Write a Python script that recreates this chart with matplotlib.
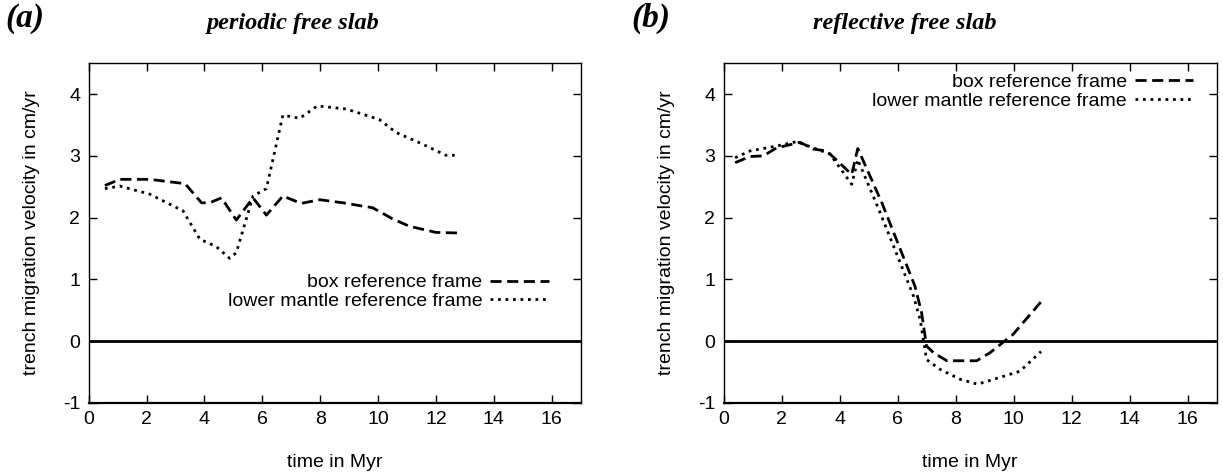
import matplotlib

matplotlib.use("Agg")
import matplotlib.pyplot as plt

# panel (a): periodic free slab
t_a_box = [0.56, 1.08, 2.11, 3.33, 3.9, 4.18, 4.59, 5.1, 5.68, 6.14, 6.71, 7.34,
           7.98, 8.78, 9.81, 10.5, 11.08, 12.0, 12.8]
v_a_box = [2.52, 2.62, 2.62, 2.55, 2.24, 2.24, 2.32, 1.96, 2.32, 2.04, 2.35, 2.23,
           2.29, 2.24, 2.16, 1.98, 1.86, 1.76, 1.75]
t_a_lm = [0.56, 1.08, 2.11, 3.26, 3.84, 4.41, 4.87, 5.1, 5.68, 6.14, 6.71, 7.29,
          7.9, 8.9, 10.04, 10.62, 11.54, 12.34, 12.8]
v_a_lm = [2.47, 2.51, 2.38, 2.11, 1.65, 1.53, 1.34, 1.43, 2.35, 2.47, 3.66, 3.61,
          3.81, 3.76, 3.59, 3.38, 3.19, 3.01, 3.01]

# panel (b): reflective free slab
t_b_box = [0.4, 0.91, 1.37, 1.83, 2.64, 3.1, 3.56, 4.42, 4.63, 5.46, 6.6, 6.83,
           7.0, 7.24, 7.7, 8.73, 9.19, 9.99, 11.03]
v_b_box = [2.89, 2.99, 3.0, 3.13, 3.22, 3.11, 3.08, 2.70, 3.12, 2.24, 0.89, 0.46,
           -0.08, -0.19, -0.32, -0.32, -0.19, 0.11, 0.68]
t_b_lm = [0.4, 0.91, 1.83, 2.52, 3.1, 3.67, 4.42, 4.63, 5.4, 6.55, 6.78, 7.0,
          7.47, 8.16, 8.76, 9.53, 10.22, 10.95]
v_b_lm = [2.97, 3.08, 3.16, 3.23, 3.13, 3.03, 2.54, 2.94, 2.08, 0.73, 0.35, -0.30,
          -0.46, -0.62, -0.70, -0.59, -0.49, -0.17]

x_ticks = [0, 2, 4, 6, 8, 10, 12, 14, 16]
y_ticks = [-1, 0, 1, 2, 3, 4]

DASHED = (0, (4.0, 2.0))
DOTTED = (0, (1.0, 1.7))


def style_axes(ax):
    ax.set_xlim(0, 17)
    ax.set_ylim(-1, 4.5)
    ax.set_xticks(x_ticks)
    ax.set_yticks(y_ticks)
    ax.tick_params(direction="in", length=6, width=1, top=True, right=True,
                   labelsize=14, pad=6)
    for side in ["top", "left", "right"]:
        ax.spines[side].set_linewidth(1)
    ax.spines["bottom"].set_linewidth(1.6)
    ax.axhline(0, color="black", lw=2)
    ax.set_xlabel("time in Myr", fontsize=14)
    ax.set_ylabel("trench migration velocity in cm/yr", fontsize=14)
    ax.xaxis.set_label_coords(0.5, -0.152)
    ax.yaxis.set_label_coords(-0.099, 0.5)


def main() -> None:
    plt.rcParams["font.family"] = ["Liberation Sans", "DejaVu Sans"]
    plt.rcParams["axes.unicode_minus"] = False

    fig = plt.figure(figsize=(12.23, 4.72), dpi=100)
    ax1 = fig.add_axes([0.0725, 0.1468, 0.4023, 0.719])
    ax2 = fig.add_axes([0.5916, 0.1468, 0.4031, 0.719])

    for ax, tb, vb, tl, vl, anchor in [
        (ax1, t_a_box, v_a_box, t_a_lm, v_a_lm, (0.935, 0.38)),
        (ax2, t_b_box, v_b_box, t_b_lm, v_b_lm, (0.952, 0.97)),
    ]:
        ax.plot(tb, vb, color="black", lw=2, linestyle=DASHED,
                label="box reference frame")
        ax.plot(tl, vl, color="black", lw=2, linestyle=DOTTED,
                label="lower mantle reference frame")
        style_axes(ax)
        ax.legend(loc="upper right", bbox_to_anchor=anchor, frameon=False,
                  markerfirst=False, fontsize=14, handlelength=3.0,
                  handletextpad=0.4, labelspacing=0.05, borderpad=0,
                  borderaxespad=0)

    serif = ["Liberation Serif", "DejaVu Serif"]
    fig.text(0.0204, 0.96, "(a)", fontsize=24, fontweight="bold", style="italic",
             family=serif, ha="center", va="center")
    fig.text(0.2396, 0.95, "periodic free slab", fontsize=17.5, fontweight="bold",
             style="italic", family=serif, ha="center", va="center")
    fig.text(0.532, 0.96, "(b)", fontsize=24, fontweight="bold", style="italic",
             family=serif, ha="center", va="center")
    fig.text(0.74, 0.95, "reflective free slab", fontsize=17.5, fontweight="bold",
             style="italic", family=serif, ha="center", va="center")

    plt.savefig("out.png", dpi=100)


if __name__ == "__main__":
    main()
